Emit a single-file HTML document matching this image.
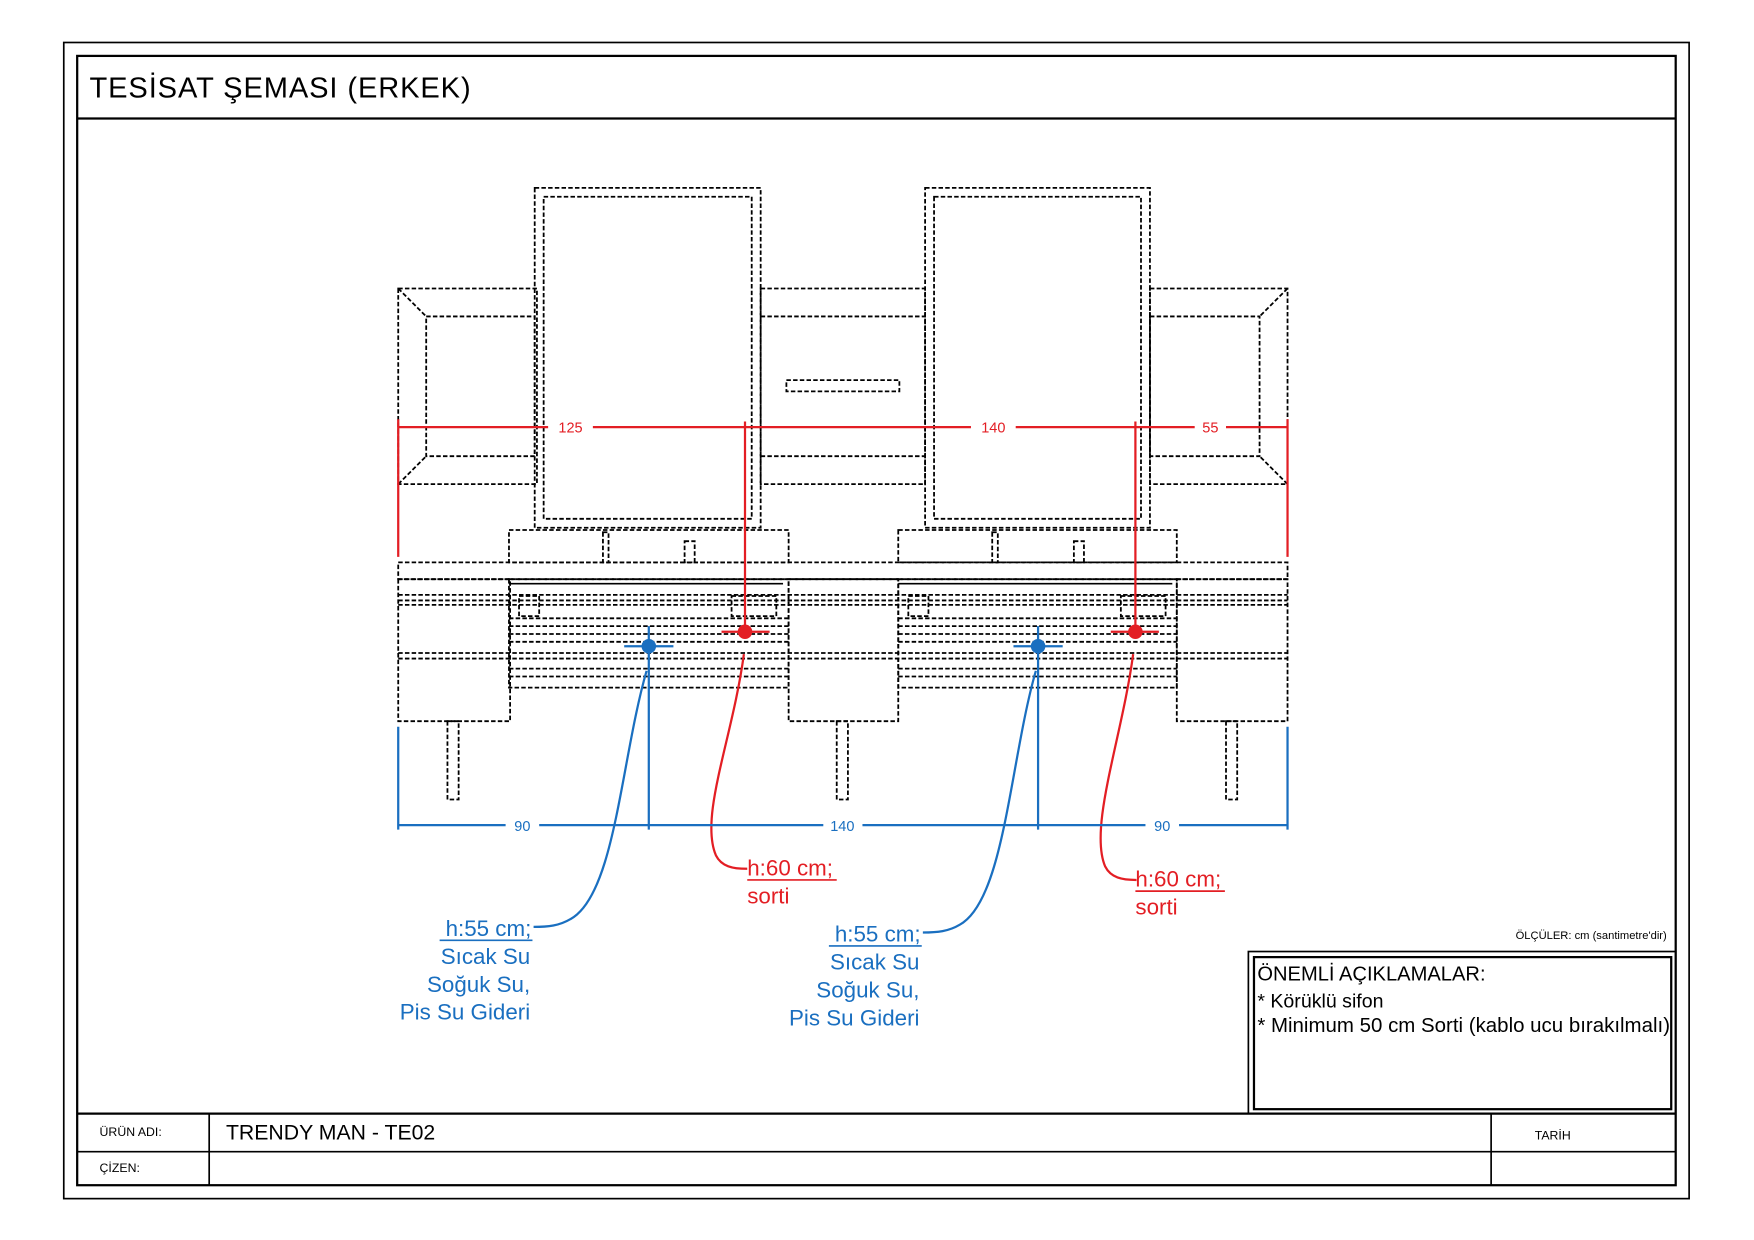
<!DOCTYPE html>
<html><head><meta charset="utf-8"><style>
html,body{margin:0;padding:0;background:#fff;}
svg{display:block;font-family:"Liberation Sans",sans-serif;}
</style></head><body>
<svg width="1754" height="1240" viewBox="0 0 1568 1109" preserveAspectRatio="none" xmlns="http://www.w3.org/2000/svg">
<rect x="0" y="0" width="1568" height="1109" fill="#fff"/>
<rect x="57" y="38" width="1453" height="1034" fill="none" stroke="#000" stroke-width="1.5"/>
<rect x="69" y="50" width="1429" height="1010" fill="none" stroke="#000" stroke-width="2"/>
<line x1="69" y1="106" x2="1498" y2="106" stroke="#000" stroke-width="2"/>
<text x="80" y="87" font-size="26" letter-spacing="0.8">TESİSAT ŞEMASI (ERKEK)</text>

<g fill="none" stroke="#000" stroke-width="1.6" stroke-dasharray="4,2">
  <rect x="356" y="258" width="124" height="175"/>
  <rect x="381" y="283" width="97" height="125"/>
  <line x1="356" y1="258" x2="381" y2="283"/><line x1="356" y1="433" x2="381" y2="408"/>
  <rect x="1028" y="258" width="123" height="175"/>
  <rect x="1028" y="283" width="98" height="125"/>
  <line x1="1151" y1="258" x2="1126" y2="283"/><line x1="1151" y1="433" x2="1126" y2="408"/>
  <rect x="680" y="258" width="147" height="175"/>
  <line x1="680" y1="283" x2="827" y2="283"/><line x1="680" y1="408" x2="827" y2="408"/>
  <rect x="703" y="340" width="101" height="10"/>
  <rect x="478" y="168" width="202" height="304"/>
  <rect x="486" y="176" width="186" height="288"/>
  <rect x="827" y="168" width="201" height="304"/>
  <rect x="835" y="176" width="185" height="288"/>
  <rect x="455" y="474" width="250" height="29"/>
  <rect x="803" y="474" width="249" height="29"/>
  <rect x="539" y="476" width="5" height="27"/><rect x="612" y="484" width="9" height="19"/>
  <rect x="887" y="476" width="5" height="27"/><rect x="960" y="484" width="9" height="19"/>
  <rect x="356" y="503" width="795" height="15"/>
  <rect x="356" y="518" width="100" height="127"/>
  <rect x="705" y="518" width="98" height="127"/>
  <rect x="1052" y="518" width="99" height="127"/>
  <rect x="455" y="518" width="250" height="97"/>
  <rect x="803" y="518" width="249" height="97"/>
  <line x1="356" y1="532" x2="1151" y2="532"/><line x1="356" y1="537" x2="1151" y2="537"/>
  <line x1="356" y1="541" x2="1151" y2="541"/>
  <line x1="455" y1="553" x2="705" y2="553"/><line x1="803" y1="553" x2="1052" y2="553"/>
  <line x1="455" y1="560" x2="705" y2="560"/><line x1="803" y1="560" x2="1052" y2="560"/>
  <line x1="455" y1="567" x2="705" y2="567"/><line x1="803" y1="567" x2="1052" y2="567"/>
  <line x1="455" y1="574" x2="705" y2="574"/><line x1="803" y1="574" x2="1052" y2="574"/>
  <line x1="356" y1="584" x2="1151" y2="584"/><line x1="356" y1="589" x2="1151" y2="589"/>
  <line x1="455" y1="598" x2="705" y2="598"/><line x1="803" y1="598" x2="1052" y2="598"/>
  <line x1="455" y1="605" x2="705" y2="605"/><line x1="803" y1="605" x2="1052" y2="605"/>
  <rect x="464" y="533" width="18" height="18"/><rect x="812" y="533" width="18" height="18"/>
  <rect x="654" y="533" width="40" height="18"/><rect x="1002" y="533" width="40" height="18"/>
  <rect x="400" y="645" width="10" height="70"/>
  <rect x="748" y="645" width="10" height="70"/>
  <rect x="1096" y="645" width="10" height="70"/>
</g>
<line x1="455" y1="522" x2="700" y2="522" stroke="#000" stroke-width="1.5"/>
<line x1="803" y1="522" x2="1048" y2="522" stroke="#000" stroke-width="1.5"/>
<line x1="705" y1="518" x2="803" y2="518" stroke="#000" stroke-width="1.5"/>

<g stroke="#e31e24" stroke-width="2" fill="none">
  <line x1="356" y1="382" x2="490" y2="382"/><line x1="530" y1="382" x2="868" y2="382"/>
  <line x1="908" y1="382" x2="1068" y2="382"/><line x1="1096" y1="382" x2="1151" y2="382"/>
  <line x1="356" y1="375" x2="356" y2="498"/><line x1="1151" y1="375" x2="1151" y2="498"/>
  <line x1="666" y1="377" x2="666" y2="565"/><line x1="1015" y1="377" x2="1015" y2="565"/>
  <line x1="645" y1="565" x2="688" y2="565"/><line x1="993" y1="565" x2="1036" y2="565"/>
  <path d="M665,585 C655,660 625,730 640,765 C645,775 655,777 668,777"/>
  <path d="M1013,585 C1003,660 973,740 988,775 C993,785 1003,787 1016,787"/>
</g>
<circle cx="666" cy="565" r="6.5" fill="#e31e24"/>
<circle cx="1015" cy="565" r="6.5" fill="#e31e24"/>
<g fill="#e31e24" font-size="13" text-anchor="middle">
  <text x="510" y="387">125</text><text x="888" y="387">140</text><text x="1082" y="387">55</text>
</g>
<g fill="#e31e24" font-size="20">
  <text x="668" y="783">h:60 cm;</text><text x="668" y="808">sorti</text>
  <text x="1015" y="793">h:60 cm;</text><text x="1015" y="818">sorti</text>
</g>
<line x1="668" y1="787" x2="748" y2="787" stroke="#e31e24" stroke-width="1.5"/>
<line x1="1015" y1="797" x2="1095" y2="797" stroke="#e31e24" stroke-width="1.5"/>

<g stroke="#1a6fc0" stroke-width="2" fill="none">
  <line x1="356" y1="738" x2="452" y2="738"/><line x1="482" y1="738" x2="736" y2="738"/>
  <line x1="771" y1="738" x2="1024" y2="738"/><line x1="1054" y1="738" x2="1151" y2="738"/>
  <line x1="356" y1="650" x2="356" y2="742"/><line x1="1151" y1="650" x2="1151" y2="742"/>
  <line x1="580" y1="560" x2="580" y2="742"/><line x1="928" y1="560" x2="928" y2="742"/>
  <line x1="558" y1="578" x2="602" y2="578"/><line x1="906" y1="578" x2="950" y2="578"/>
  <path d="M578,600 C555,680 550,800 510,822 C500,828 490,829 477,829"/>
  <path d="M926,600 C903,680 898,805 858,827 C848,833 838,834 825,834"/>
</g>
<circle cx="580" cy="578" r="6.5" fill="#1a6fc0"/>
<circle cx="928" cy="578" r="6.5" fill="#1a6fc0"/>
<g fill="#1a6fc0" font-size="13" text-anchor="middle">
  <text x="467" y="743">90</text><text x="753" y="743">140</text><text x="1039" y="743">90</text>
</g>
<g fill="#1a6fc0" font-size="20" text-anchor="end">
  <text x="475" y="837">h:55 cm;</text><text x="474" y="862">Sıcak Su</text>
  <text x="474" y="887">Soğuk Su,</text><text x="474" y="912">Pis Su Gideri</text>
  <text x="823" y="842">h:55 cm;</text><text x="822" y="867">Sıcak Su</text>
  <text x="822" y="892">Soğuk Su,</text><text x="822" y="917">Pis Su Gideri</text>
</g>
<line x1="393" y1="841" x2="476" y2="841" stroke="#1a6fc0" stroke-width="1.5"/>
<line x1="741" y1="846" x2="824" y2="846" stroke="#1a6fc0" stroke-width="1.5"/>

<text x="1490" y="840" font-size="10" text-anchor="end">ÖLÇÜLER: cm (santimetre'dir)</text>
<rect x="1116" y="851" width="382" height="145" fill="none" stroke="#000" stroke-width="1.5"/>
<rect x="1121" y="856" width="373" height="136" fill="none" stroke="#000" stroke-width="2"/>
<text x="1124" y="877" font-size="18">ÖNEMLİ AÇIKLAMALAR:</text>
<text x="1124" y="901" font-size="17.5">* Körüklü sifon</text>
<text x="1124" y="923" font-size="18.3">* Minimum 50 cm Sorti (kablo ucu bırakılmalı)</text>

<g stroke="#000" stroke-width="2">
  <line x1="69" y1="996" x2="1498" y2="996"/>
  <line x1="69" y1="1030" x2="1498" y2="1030" stroke-width="1.5"/>
  <line x1="187" y1="996" x2="187" y2="1060" stroke-width="1.5"/>
  <line x1="1333" y1="996" x2="1333" y2="1060" stroke-width="1.5"/>
</g>
<text x="89" y="1016" font-size="11">ÜRÜN ADI:</text>
<text x="89" y="1048" font-size="11">ÇİZEN:</text>
<text x="202" y="1019" font-size="19">TRENDY MAN - TE02</text>
<text x="1372" y="1019" font-size="11">TARİH</text>
</svg>
</body></html>
